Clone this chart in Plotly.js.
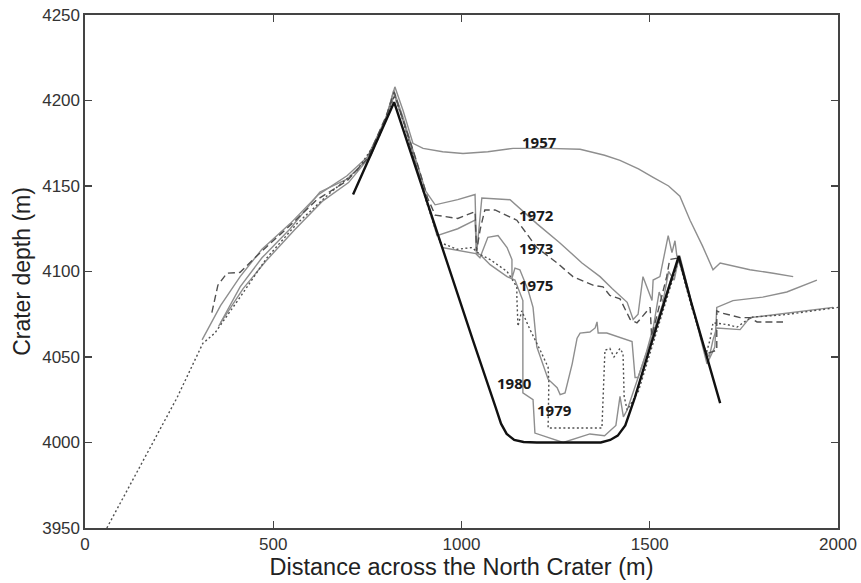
<!DOCTYPE html>
<html>
<head>
<meta charset="utf-8">
<script src="https://cdn.plot.ly/plotly-3.0.1.min.js"></script>
<style>html,body{margin:0;padding:0;background:#fff;}#chart{width:861px;height:583px;}</style>
</head>
<body>
<div id="chart"></div>
<script>
// ---- Data ----
const floorX = [712, 821, 860, 920, 970, 1030, 1090, 1105, 1120, 1140, 1165, 1200, 1300, 1370, 1395, 1415, 1435, 1460, 1500, 1540, 1577, 1610, 1650, 1687];
const floorY = [4145, 4199, 4173, 4133, 4099, 4060, 4021, 4011, 4005, 4001.5, 4000.3, 4000, 4000, 4000, 4001.5, 4004, 4010, 4026, 4055, 4083, 4109, 4082, 4051, 4023];

const x1957 = [311, 360, 412, 470, 545, 620, 696, 750, 800, 823, 845, 871, 898, 950, 1004, 1070, 1137, 1230, 1315, 1380, 1421, 1470, 1509, 1550, 1580, 1607, 1640, 1668, 1687, 1766, 1828, 1881];
const y1957 = [4060, 4080, 4097, 4113, 4128, 4145, 4156, 4167, 4190, 4208, 4194, 4175, 4172, 4170, 4169, 4170, 4172, 4172, 4171.5, 4168, 4165, 4160, 4155, 4150, 4144, 4130, 4115, 4101, 4105, 4101, 4099, 4097];

const x1972 = [337, 353, 377, 412, 470, 545, 616, 696, 750, 800, 821, 850, 880, 910, 930, 990, 1036, 1040, 1050, 1062, 1089, 1147, 1200, 1254, 1296, 1349, 1376, 1394, 1421, 1448, 1466, 1474, 1501, 1505, 1545, 1553, 1577, 1610, 1640, 1652, 1678, 1678, 1687, 1740, 1766, 1785, 1854];
const y1972 = [4076, 4092, 4099, 4099.5, 4112, 4127, 4142, 4153, 4166, 4191, 4205, 4186, 4165, 4143, 4133, 4131, 4135, 4112, 4125, 4136, 4136, 4130, 4114, 4105, 4097, 4092, 4091, 4086, 4084, 4072, 4070, 4072, 4079, 4062, 4097, 4107, 4108, 4082, 4058, 4052, 4054, 4077, 4076, 4073, 4073, 4070.5, 4070.5];

const x1973 = [355, 412, 470, 545, 624, 696, 750, 800, 820, 845, 875, 905, 930, 990, 1036, 1040, 1054, 1129, 1200, 1260, 1320, 1368, 1400, 1440, 1456, 1469, 1482, 1493, 1506, 1509, 1527, 1549, 1559, 1567, 1572, 1580, 1610, 1640, 1652, 1665, 1673, 1678, 1721, 1800, 1864, 1944];
const y1973 = [4068, 4091, 4108, 4125, 4146.5, 4154, 4166, 4190, 4206, 4190, 4168, 4147, 4139, 4142, 4145, 4110, 4143, 4142, 4128, 4117, 4105, 4097, 4090, 4082, 4072, 4075, 4097, 4091, 4083, 4095, 4097, 4121, 4111, 4118, 4109, 4109, 4082, 4055, 4046, 4052, 4056, 4079, 4083, 4085, 4088, 4095];

const x1975 = [360, 420, 480, 555, 630, 700, 760, 805, 822, 848, 878, 908, 935, 990, 1036, 1040, 1049, 1070, 1097, 1121, 1134, 1134, 1142, 1155, 1177, 1190, 1200, 1230, 1254, 1262, 1275, 1283, 1294, 1307, 1315, 1341, 1355, 1360, 1363, 1386, 1453, 1461, 1469, 1500, 1540, 1560, 1577, 1610, 1645, 1658, 1668, 1678, 1740, 1766, 1987];
const y1975 = [4070, 4090, 4106, 4124, 4141, 4152, 4168, 4193, 4203, 4186, 4163, 4141, 4121, 4125, 4130, 4110, 4108, 4120, 4121, 4114, 4107, 4096, 4102, 4101, 4089, 4079, 4056, 4037, 4032, 4028, 4029, 4036, 4046, 4061, 4064, 4064.6, 4067, 4070.5, 4064, 4064, 4059, 4038, 4038, 4058, 4085, 4098, 4107, 4082, 4055, 4050, 4060, 4067, 4066, 4073, 4079];

const x1980 = [948, 1000, 1049, 1076, 1121, 1142, 1163, 1163, 1190, 1195, 1227, 1270, 1341, 1380, 1410, 1421, 1430, 1440, 1466, 1490, 1510, 1525, 1535, 1550, 1565, 1577];
const y1980 = [4114, 4112, 4110, 4104, 4097, 4095, 4083, 4029, 4025, 4005.5, 4003, 4000, 4005, 4004, 4010, 4027, 4015, 4019, 4036, 4052, 4068, 4088, 4082, 4100, 4095, 4108];

const x1979 = [58, 244, 313, 345, 412, 483, 563, 651, 722, 780, 810, 822, 845, 875, 905, 930, 943, 988, 1028, 1049, 1076, 1121, 1147, 1147, 1150, 1160, 1182, 1209, 1230, 1232, 1230, 1373, 1381, 1394, 1405, 1421, 1429, 1432, 1440, 1470, 1500, 1540, 1577, 1610, 1650, 1660, 1668, 1705, 1732, 1758, 1774, 1854, 2000];
const y1979 = [3950, 4026, 4058, 4064, 4085, 4108, 4128, 4146, 4159, 4178, 4196, 4203, 4188, 4165, 4142, 4125, 4117, 4113, 4114, 4110, 4107, 4100, 4091, 4085, 4068, 4077, 4066, 4054, 4044, 4035, 4008.5, 4008.5, 4054, 4055, 4050, 4055, 4052, 4027, 4019, 4030, 4052, 4080, 4107, 4080, 4052, 4060, 4070, 4069, 4067.5, 4071.6, 4073.4, 4074.6, 4079];

const labelText = ["1957", "1972", "1973", "1975", "1980", "1979"];
const labelX = [1208, 1198, 1198, 1198, 1142, 1248];
const labelY = [4176, 4133, 4114, 4092, 4035, 4019];

const xTicks = [0, 500, 1000, 1500, 2000];
const yTicks = [3950, 4000, 4050, 4100, 4150, 4200, 4250];

// ---- Styles ----
const gray = '#8e8e8e';
const dark = '#505050';

function tr(x, y, name, color, width, dash) {
  return {x: x, y: y, name: name, type: 'scatter', mode: 'lines',
          line: {color: color, width: width, dash: dash || 'solid'}, hoverinfo: 'skip'};
}

const traces = [
  tr(x1957, y1957, '1957', gray, 1.4),
  tr(x1973, y1973, '1973', gray, 1.4),
  tr(x1975, y1975, '1975', gray, 1.4),
  tr(x1980, y1980, '1980', gray, 1.4),
  tr(x1972, y1972, '1972', dark, 1.4, '7px,4px'),
  tr(x1979, y1979, '1979', dark, 1.4, '2px,2.5px'),
  tr(floorX, floorY, 'floor', '#111111', 2.4)
];

const annotations = labelText.map((t, i) => ({
  x: labelX[i], y: labelY[i], xref: 'x', yref: 'y', text: t, showarrow: false,
  font: {family: 'Open Sans, Arial, sans-serif', size: 15, color: '#1a1a1a', weight: 'bold'}
}));

const axisCommon = {
  showgrid: false, zeroline: false, showline: true, linecolor: '#444', linewidth: 1.6,
  mirror: 'ticks', ticks: 'inside', ticklen: 7, tickwidth: 1.4, tickcolor: '#444',
  tickfont: {family: 'Liberation Sans, Arial, sans-serif', size: 17, color: '#333'}
};

const layout = {
  width: 861, height: 583,
  margin: {l: 85, r: 23, t: 15, b: 55},
  paper_bgcolor: '#fff', plot_bgcolor: '#fff',
  showlegend: false,
  xaxis: Object.assign({}, axisCommon, {
    range: [0, 2000], tickvals: xTicks, ticktext: xTicks.map(String),
    title: {text: 'Distance across the North Crater (m)', standoff: 2,
            font: {family: 'Liberation Sans, Arial, sans-serif', size: 23.5, color: '#222'}}
  }),
  yaxis: Object.assign({}, axisCommon, {
    range: [3950, 4250], tickvals: yTicks, ticktext: yTicks.map(String),
    title: {text: 'Crater depth (m)', standoff: 5,
            font: {family: 'Liberation Sans, Arial, sans-serif', size: 23, color: '#222'}}
  }),
  annotations: annotations
};

Plotly.newPlot('chart', traces, layout, {staticPlot: true, displayModeBar: false});
</script>
</body>
</html>
